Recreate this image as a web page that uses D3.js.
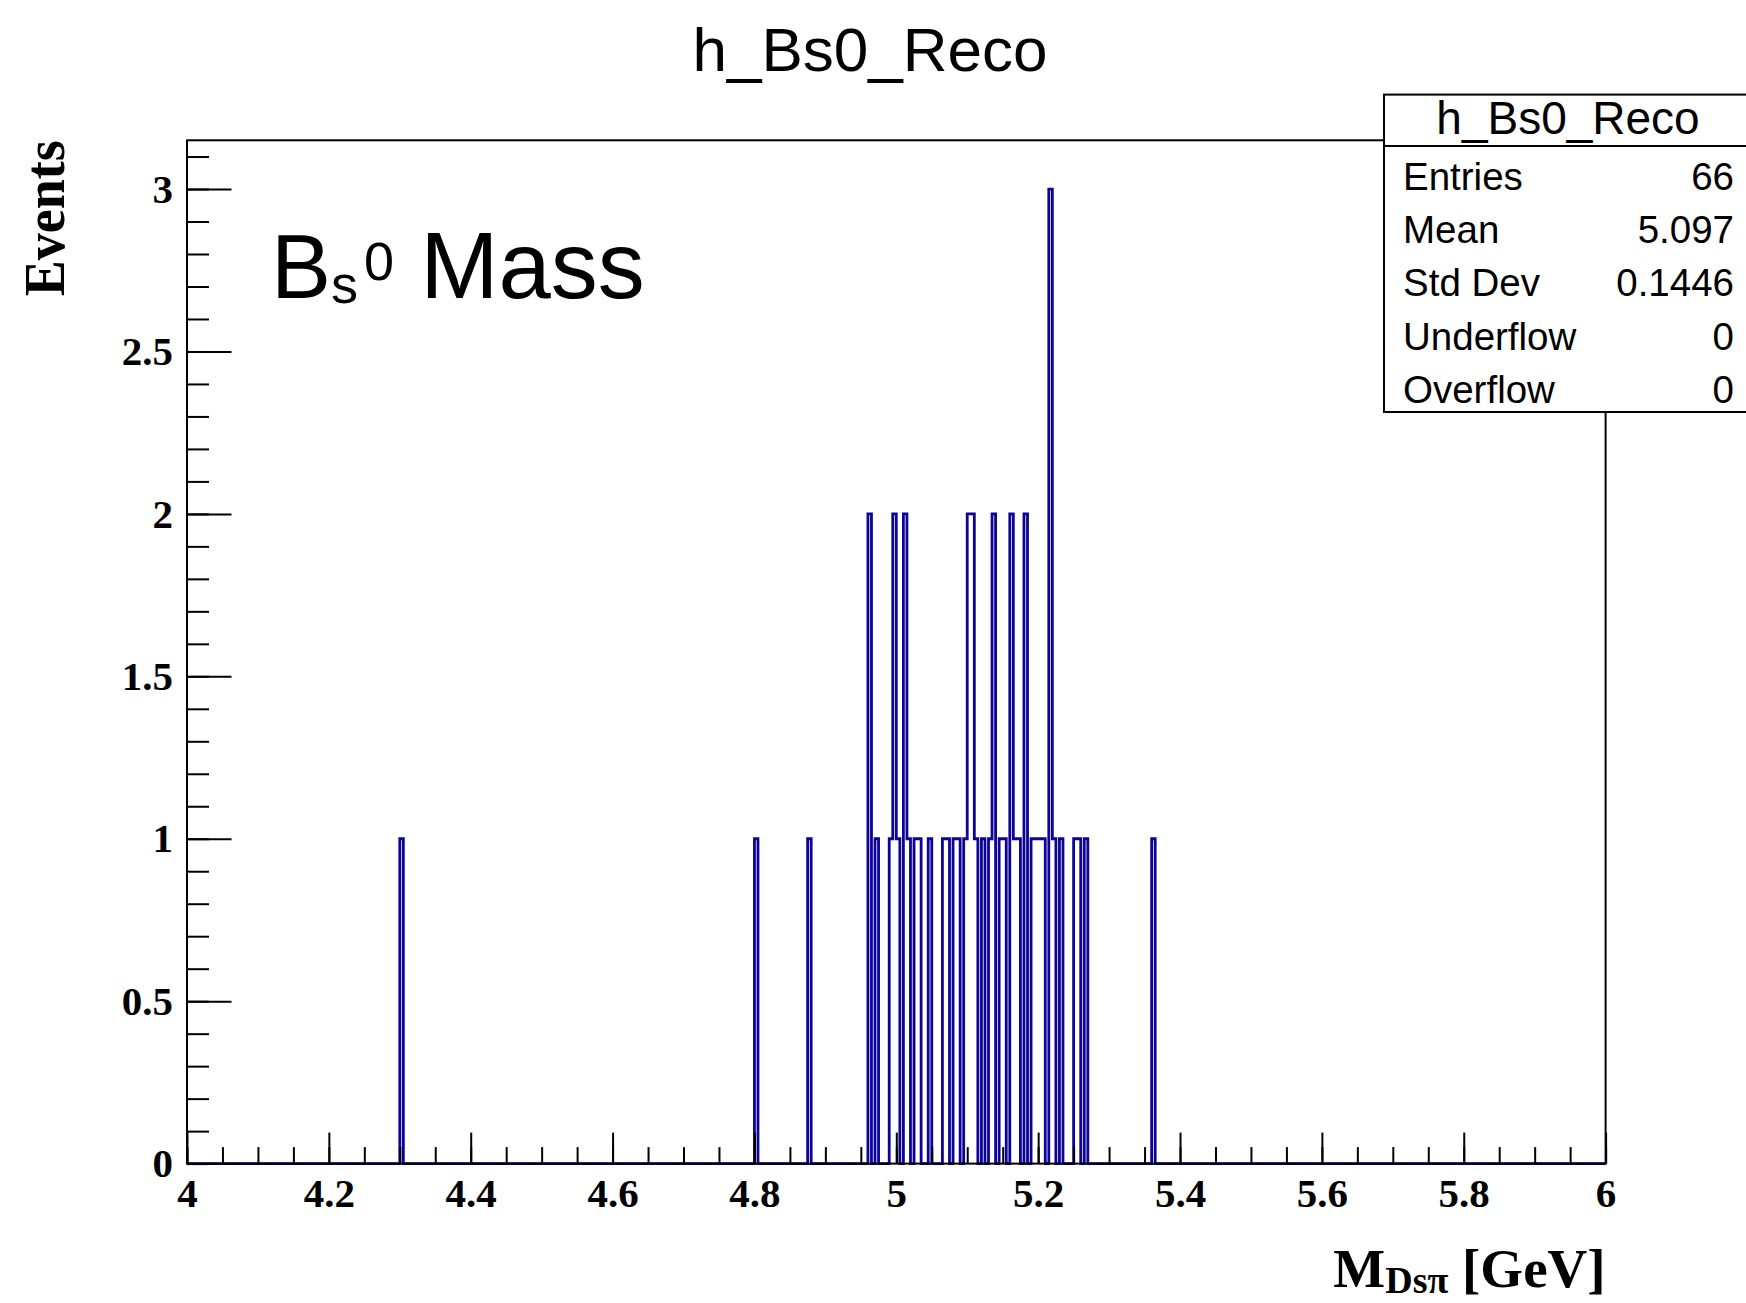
<!DOCTYPE html>
<html><head><meta charset="utf-8">
<script src="https://cdn.jsdelivr.net/npm/d3@7"></script>
<style>html,body{margin:0;padding:0;background:#fff;}svg{display:block}</style>
</head><body>
<script>
// ---------------- data ----------------
const histTitle = "h_Bs0_Reco";
const xDomain = [4, 6];
const yDomain = [0, 3.15];
const nBins = 400;
// lower edges (GeV) of the non-empty bins and their contents
const binLow = [4.300, 4.800, 4.875, 4.960, 4.970, 4.990, 4.995, 5.000, 5.010, 5.015,
                5.025, 5.030, 5.045, 5.065, 5.070, 5.080, 5.085, 5.095, 5.100, 5.105,
                5.110, 5.120, 5.130, 5.135, 5.145, 5.150, 5.160, 5.165, 5.170, 5.180,
                5.190, 5.195, 5.200, 5.205, 5.215, 5.220, 5.230, 5.250, 5.255,
                5.265, 5.360];
const binCount = [1, 1, 1, 2, 1, 1, 2, 1, 2, 1,
                  1, 1, 1, 1, 1, 1, 1, 1, 2, 2,
                  1, 1, 1, 2, 1, 1, 2, 1, 1, 2,
                  1, 1, 1, 1, 3, 1, 1, 1, 1,
                  1, 1];
const xTickValues = [4, 4.2, 4.4, 4.6, 4.8, 5, 5.2, 5.4, 5.6, 5.8, 6];
const xTickLabels = ["4", "4.2", "4.4", "4.6", "4.8", "5", "5.2", "5.4", "5.6", "5.8", "6"];
const yTickValues = [0, 0.5, 1, 1.5, 2, 2.5, 3];
const yTickLabels = ["0", "0.5", "1", "1.5", "2", "2.5", "3"];
const statLabels = ["Entries", "Mean", "Std Dev", "Underflow", "Overflow"];
const statValues = ["66", "5.097", "0.1446", "0", "0"];

// ---------------- layout ----------------
const W = 1746, H = 1303;
const M = {left: 187, right: 1605.6, top: 140.3, bottom: 1163.6};
const HIST_COLOR = "#0c0399";
const SERIF = "'Liberation Serif','Times New Roman',serif";
const SANS = "'Liberation Sans',Helvetica,Arial,sans-serif";

const svg = d3.select("body").append("svg").attr("width", W).attr("height", H)
  .style("background", "#fff");

const x = d3.scaleLinear().domain(xDomain).range([M.left, M.right]);
const y = d3.scaleLinear().domain(yDomain).range([M.bottom, M.top]);

// build histogram contents
const binWidth = (xDomain[1] - xDomain[0]) / nBins;
const counts = new Array(nBins).fill(0);
binLow.forEach((b, i) => {
  const k = Math.round((b - xDomain[0]) / binWidth);
  counts[k] += binCount[i];
});
const pts = [[xDomain[0], 0]];
counts.forEach((c, i) => pts.push([xDomain[0] + i * binWidth, c]));
pts.push([xDomain[1], 0]);

const line = d3.line().x(d => x(d[0])).y(d => y(d[1])).curve(d3.curveStepAfter);
svg.append("path").datum(pts).attr("d", line)
  .attr("fill", "none").attr("stroke", HIST_COLOR).attr("stroke-width", 2.8)
  .attr("stroke-linejoin", "miter");

// ---------------- axes ----------------
function styleAxis(g) {
  g.select(".domain").remove();
  g.selectAll("line").attr("stroke", "#000").attr("stroke-width", 2);
  g.selectAll("text").attr("fill", "#000")
    .style("font-family", SERIF).style("font-weight", "bold").style("font-size", "41px");
}
const xMinor = d3.range(0, 41).map(i => xDomain[0] + i * 0.05);
const yMinor = d3.range(0, 32).map(i => i * 0.1);

svg.append("g").attr("transform", `translate(0,${M.bottom})`)
  .call(d3.axisBottom(x).tickValues(xMinor).tickSize(-16.5).tickFormat(""))
  .call(styleAxis);
svg.append("g").attr("transform", `translate(0,${M.bottom})`)
  .call(d3.axisBottom(x).tickValues(xTickValues).tickSize(-31).tickPadding(14.5)
        .tickFormat((d, i) => xTickLabels[i]))
  .call(styleAxis);

svg.append("g").attr("transform", `translate(${M.left},0)`)
  .call(d3.axisLeft(y).tickValues(yMinor).tickSize(-22).tickFormat(""))
  .call(styleAxis);
svg.append("g").attr("transform", `translate(${M.left},0)`)
  .call(d3.axisLeft(y).tickValues(yTickValues).tickSize(-44.5).tickPadding(14)
        .tickFormat((d, i) => yTickLabels[i]))
  .call(styleAxis);

// frame
svg.append("rect")
  .attr("x", x(xDomain[0])).attr("y", y(yDomain[1]))
  .attr("width", x(xDomain[1]) - x(xDomain[0])).attr("height", y(0) - y(yDomain[1]))
  .attr("fill", "none").attr("stroke", "#000").attr("stroke-width", 2);

// ---------------- titles ----------------
svg.append("text").attr("x", W / 2 - 3).attr("y", 71).attr("text-anchor", "middle")
  .style("font-family", SANS).style("font-size", "62px").attr("fill", "#000")
  .text(histTitle);

// x-axis title
const xt = svg.append("text").attr("x", x(xDomain[1])).attr("y", 1287)
  .attr("text-anchor", "end").attr("fill", "#000")
  .style("font-family", SERIF).style("font-weight", "bold").style("font-size", "55px");
xt.append("tspan").text("M");
xt.append("tspan").attr("dy", 6).style("font-size", "38px").text("Dsπ");
xt.append("tspan").attr("dy", -6).text(" [GeV]");

// y-axis title
svg.append("text")
  .attr("transform", `translate(64,${y(yDomain[1])}) rotate(-90)`)
  .attr("text-anchor", "end").attr("fill", "#000")
  .attr("textLength", 156).attr("lengthAdjust", "spacingAndGlyphs")
  .style("font-family", SERIF).style("font-weight", "bold").style("font-size", "58px")
  .text("Events");

// Bs0 Mass label
const bl = svg.append("text").attr("x", 271).attr("y", 298).attr("fill", "#000")
  .style("font-family", SANS).style("font-size", "90px");
bl.append("tspan").text("B");
bl.append("tspan").attr("dy", 5).style("font-size", "54px").text("s");
bl.append("tspan").attr("dx", 6).attr("dy", -23).style("font-size", "54px").text("0");
bl.append("tspan").attr("dy", 18).style("font-size", "94px").text(" Mass");

// ---------------- stats box ----------------
const box = {x: 1384, y: 94.6, w: 420, h: 317.4, sep: 146};
const sb = svg.append("g");
sb.append("rect").attr("x", box.x).attr("y", box.y).attr("width", box.w).attr("height", box.h)
  .attr("fill", "#fff").attr("stroke", "#000").attr("stroke-width", 2);
sb.append("line").attr("x1", box.x).attr("x2", box.x + box.w)
  .attr("y1", box.sep).attr("y2", box.sep).attr("stroke", "#000").attr("stroke-width", 2);
sb.append("text").attr("x", 1568).attr("y", 133.5).attr("text-anchor", "middle")
  .style("font-family", SANS).style("font-size", "46px").attr("fill", "#000").text(histTitle);
statLabels.forEach((lab, i) => {
  const yy = 189.8 + i * 53.3;
  sb.append("text").attr("x", 1403).attr("y", yy)
    .style("font-family", SANS).style("font-size", "38.5px").attr("fill", "#000").text(lab);
  sb.append("text").attr("x", 1734).attr("y", yy).attr("text-anchor", "end")
    .style("font-family", SANS).style("font-size", "38.5px").attr("fill", "#000").text(statValues[i]);
});
</script>
</body></html>
